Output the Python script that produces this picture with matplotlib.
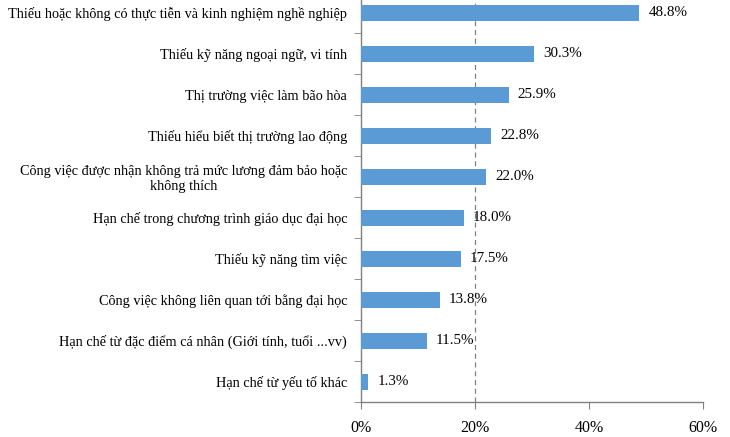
import matplotlib.pyplot as plt
import numpy as np

categories = [
    "Thiếu hoặc không có thực tiễn và kinh nghiệm nghề nghiệp",
    "Thiếu kỹ năng ngoại ngữ, vi tính",
    "Thị trường việc làm bão hòa",
    "Thiếu hiểu biết thị trường lao động",
    "Công việc được nhận không trả mức lương đảm bảo hoặc\nkhông thích",
    "Hạn chế trong chương trình giáo dục đại học",
    "Thiếu kỹ năng tìm việc",
    "Công việc không liên quan tới bằng đại học",
    "Hạn chế từ đặc điểm cá nhân (Giới tính, tuổi ...vv)",
    "Hạn chế từ yếu tố khác",
]
values = [48.8, 30.3, 25.9, 22.8, 22.0, 18.0, 17.5, 13.8, 11.5, 1.3]
xticks = [0, 20, 40, 60]
xtick_labels = ["0%", "20%", "40%", "60%"]

plt.rcParams['font.family'] = ['Liberation Serif', 'DejaVu Serif']

fig = plt.figure(figsize=(7.3, 4.37), dpi=100)
ax = fig.add_axes([0.4945, 0.080, 0.4685, 0.938])

y = np.arange(len(categories))
ax.barh(y, values, height=0.39, color='#5B9BD5', zorder=3)
for yi, v in zip(y, values):
    ax.text(v + 1.6, yi, f"{v:.1f}%", va='center', ha='left', fontsize=10.8)

ax.set_ylim(len(categories) - 0.5, -0.5)
ax.set_xlim(0, 60)
ax.axvline(20, color='#808080', linestyle=(0, (4, 3)), linewidth=0.9, zorder=1)

ax.set_yticks(y)
ax.set_yticklabels(categories, fontsize=10.3, multialignment='center')
ax.set_yticks(np.arange(-0.5, len(categories), 1), minor=True)
ax.tick_params(axis='y', which='major', length=0, pad=10)
ax.tick_params(axis='y', which='minor', length=5, color='#808080', direction='out')

ax.set_xticks(xticks)
ax.set_xticklabels(xtick_labels, fontsize=11.5)
ax.tick_params(axis='x', length=5, color='#808080', direction='out', pad=8)

for s in ['top', 'right']:
    ax.spines[s].set_visible(False)
for s in ['left', 'bottom']:
    ax.spines[s].set_color('#808080')
    ax.spines[s].set_linewidth(1)

fig.savefig('out.png', dpi=100)
